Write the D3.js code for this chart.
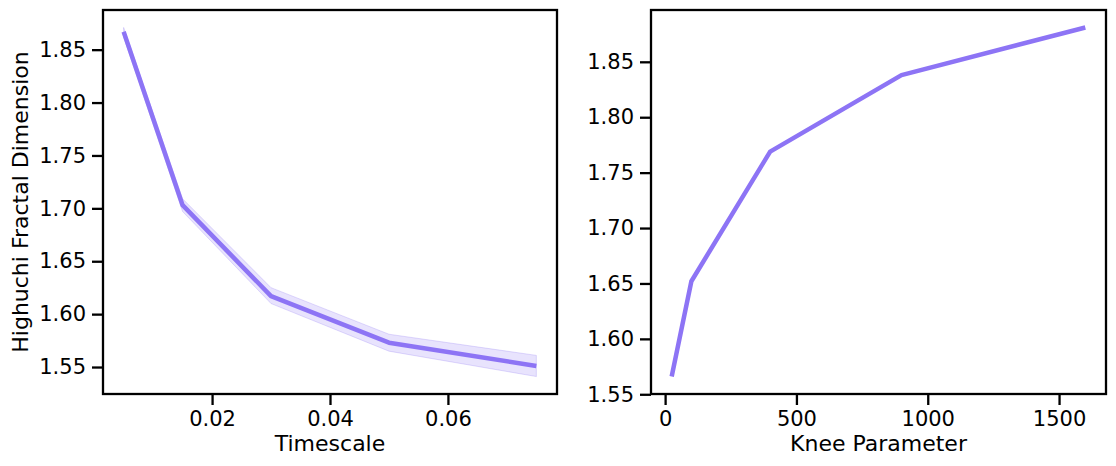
<!DOCTYPE html>
<html><head><meta charset="utf-8">
<script src="https://cdn.jsdelivr.net/npm/d3@7"></script>
<style>body{margin:0;background:#fff}svg{display:block}text{font-family:"DejaVu Sans",sans-serif;fill:#000}</style>
</head><body><svg id="c" width="1116" height="466"></svg>
<script>
// Left panel data
const timescales = [0.005, 0.015, 0.03, 0.05, 0.075];
const hfdTimescale = [1.867, 1.703, 1.617, 1.573, 1.551];
const hfdLower = [1.862, 1.697, 1.610, 1.565, 1.541];
const hfdUpper = [1.871, 1.709, 1.625, 1.581, 1.561];
const xTicksLeft = [0.02, 0.04, 0.06];
const yTicksLeft = [1.55, 1.60, 1.65, 1.70, 1.75, 1.80, 1.85];
// Right panel data
const kneeParams = [25, 100, 400, 900, 1600];
const hfdKnee = [1.566, 1.652, 1.769, 1.838, 1.881];
const xTicksRight = [0, 500, 1000, 1500];
const yTicksRight = [1.55, 1.60, 1.65, 1.70, 1.75, 1.80, 1.85];

const color = "#8d74f5";
const svg = d3.select("#c");

function pad(ext){const r=ext[1]-ext[0];return [ext[0]-0.05*r, ext[1]+0.05*r];}

function panel(opts){
  const {x0,x1,y0,y1,xs,ys,lo,hi,xt,yt,xfmt,xlabel,ylabel} = opts;
  const allY = lo ? lo.concat(hi) : ys;
  const x = d3.scaleLinear().domain(pad(d3.extent(xs))).range([x0,x1]);
  const y = d3.scaleLinear().domain(pad(d3.extent(allY))).range([y1,y0]);
  const g = svg.append("g");
  if(lo){
    const area = d3.area().x((d,i)=>x(xs[i])).y0((d,i)=>y(lo[i])).y1((d,i)=>y(hi[i]));
    g.append("path").datum(xs).attr("d",area)
      .attr("fill",color).attr("fill-opacity",0.2)
      .attr("stroke",color).attr("stroke-opacity",0.25).attr("stroke-width",1);
  }
  const line = d3.line().x((d,i)=>x(xs[i])).y((d,i)=>y(ys[i]));
  g.append("path").datum(xs).attr("d",line).attr("fill","none")
    .attr("stroke",color).attr("stroke-width",4.5).attr("stroke-linecap","butt").attr("stroke-linejoin","round");
  const xa = g.append("g").attr("transform",`translate(0,${y1})`)
    .call(d3.axisBottom(x).tickValues(xt).tickFormat(xfmt).tickSize(11).tickPadding(6));
  const ya = g.append("g").attr("transform",`translate(${x0},0)`)
    .call(d3.axisLeft(y).tickValues(yt).tickFormat(d3.format(".2f")).tickSize(11).tickPadding(6));
  [xa,ya].forEach(a=>{
    a.select(".domain").remove();
    a.selectAll(".tick line").attr("stroke","#000").attr("stroke-width",2.3);
    a.selectAll(".tick text").attr("font-size",21).attr("font-family","DejaVu Sans").attr("fill","#000");
  });
  g.append("rect").attr("x",x0).attr("y",y0).attr("width",x1-x0).attr("height",y1-y0)
    .attr("fill","none").attr("stroke","#000").attr("stroke-width",2.3);
  g.append("text").attr("x",(x0+x1)/2).attr("y",451).attr("text-anchor","middle")
    .attr("font-size",22).text(xlabel);
  if(ylabel){
    g.append("text").attr("transform",`translate(28,${(y0+y1)/2}) rotate(-90)`)
      .attr("text-anchor","middle").attr("font-size",22).text(ylabel);
  }
}

panel({x0:103,x1:557,y0:10,y1:394,xs:timescales,ys:hfdTimescale,lo:hfdLower,hi:hfdUpper,
  xt:xTicksLeft,yt:yTicksLeft,xfmt:d3.format(".2f"),xlabel:"Timescale",ylabel:"Highuchi Fractal Dimension"});
panel({x0:651,x1:1106,y0:10,y1:394,xs:kneeParams,ys:hfdKnee,
  xt:xTicksRight,yt:yTicksRight,xfmt:d3.format("d"),xlabel:"Knee Parameter"});
</script></body></html>
